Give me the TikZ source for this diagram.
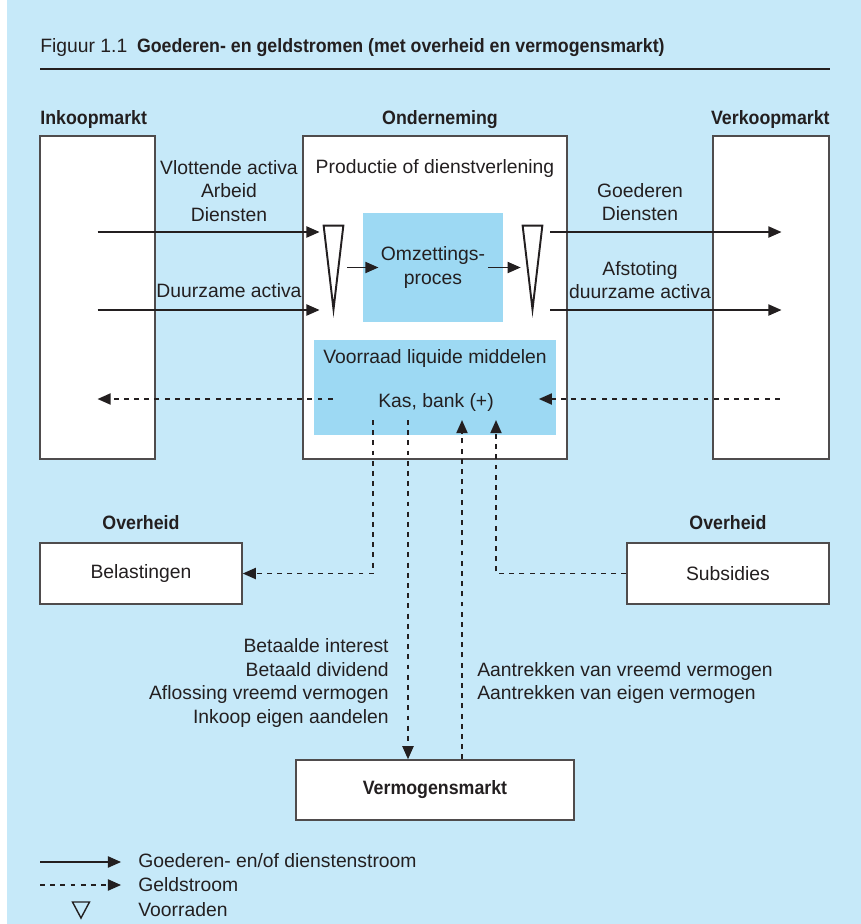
\documentclass[tikz,border=0pt]{standalone}
\usepackage{fontspec}
\setmainfont{Liberation Sans}[BoldFeatures={FakeStretch=0.92}]
\usetikzlibrary{arrows.meta,positioning,fit,calc}

\definecolor{achtergrond}{HTML}{C6E9F9}
\definecolor{vlak}{HTML}{9DD9F3}
\definecolor{inkt}{HTML}{231F20}

\begin{document}
\begin{tikzpicture}[x=0.02cm, y=-0.02cm, font=\fontsize{11}{13.4}\selectfont, text=inkt,
    box/.style={draw=inkt!80, fill=white, line width=0.8pt, inner sep=0pt},
    vlakbox/.style={fill=vlak, inner sep=0pt},
    kop/.style={font=\fontsize{11}{13.4}\selectfont\bfseries},
    flow/.style={draw=inkt, line width=1.1pt, -{Triangle[length=7.5pt, width=6.3pt]}},
    geld/.style={flow, dash pattern=on 2.8pt off 3pt},
    voorraad/.style={draw=inkt, line width=1.1pt, fill=white, miter limit=20}]

    \useasboundingbox (0,0) rectangle (861,924);
    \fill[achtergrond] (7,0) rectangle (861,924);

    % titel
    \node[anchor=base west, inner sep=0pt] (titel) at (40,52) {Figuur 1.1\enspace\textbf{Goederen- en geldstromen (met overheid en vermogensmarkt)}};
    \draw[inkt, line width=1.7pt] (40,69) -- (830,69);

    % markten en onderneming
    \node[box, fit={(40,136) (155,459)}] (inkoop) {};
    \node[box, fit={(303,136) (567,459)}] (onderneming) {};
    \node[box, fit={(713,136) (829,459)}] (verkoop) {};
    \node[kop, anchor=base west, inner sep=0pt] (inkoopkop) at (40,124) {Inkoopmarkt};
    \node[kop, anchor=base, inner sep=0pt] (ondernemingkop) at (440,124) {Onderneming};
    \node[kop, anchor=base east, inner sep=0pt] (verkoopkop) at (830,124) {Verkoopmarkt};

    \node[anchor=base] (productie) at (435,173) {Productie of dienstverlening};
    \node[vlakbox, fit={(363,213) (503,322)}] (omzetting) {};
    \node[align=center] (omzettekst) at (omzetting) {Omzettings-\\proces};

    % voorraden
    \node[inner sep=0pt, fit={(324,226) (343,309)}] (vlinks) {};
    \node[inner sep=0pt, fit={(523,226) (542,309)}] (vrechts) {};
    \draw[voorraad] (vlinks.north west) -- (vlinks.north east) -- (vlinks.south) -- cycle;
    \draw[voorraad] (vrechts.north west) -- (vrechts.north east) -- (vrechts.south) -- cycle;

    % goederenstromen
    \draw[flow, shorten >=2.3pt] (inkoop.center |- 0,232) -- (vlinks.west |- 0,232);
    \draw[flow, shorten >=2.3pt] (inkoop.center |- 0,310) -- (vlinks.west |- 0,310);
    \draw[flow] ([xshift=2.3pt]vlinks.east |- omzetting) -- ([xshift=9pt]omzetting.west);
    \draw[flow] ([xshift=-8.5pt]omzetting.east) -- ([xshift=-1.1pt]vrechts.west |- omzetting);
    \draw[flow] ([xshift=4.5pt]vrechts.east |- 0,232) -- ([xshift=6pt]verkoop.center |- 0,232);
    \draw[flow] ([xshift=4.5pt]vrechts.east |- 0,310) -- ([xshift=6pt]verkoop.center |- 0,310);

    \node[align=center] (inkooptekst) at (229,191) {Vlottende activa\\Arbeid\\Diensten};
    \node[anchor=base] (duurzaam) at (229,297) {Duurzame activa};
    \node[align=center] (verkooptekst) at (640,202) {Goederen\\Diensten};
    \node[align=center] (afstoting) at (640,280) {Afstoting\\duurzame activa};

    % liquide middelen
    \node[vlakbox, fit={(314,340) (556,435)}] (liquide) {};
    \node[anchor=base] (voorraadtekst) at (435,363) {Voorraad liquide middelen};
    \node[anchor=base] (kas) at (436,407) {Kas, bank (+)};

    \draw[geld] ([xshift=10.8pt]liquide.west |- 0,399) -- (inkoop.center |- 0,399);
    \draw[geld] ([xshift=5pt]verkoop.center |- 0,399) -- ([xshift=-10pt]liquide.east |- 0,399);

    % overheid
    \node[box, fit={(40,543) (242,604)}] (belasting) {};
    \node[box, fit={(627,543) (829,604)}] (subsidie) {};
    \node (belastingtekst) at (belasting) {Belastingen};
    \node (subsidietekst) at (subsidie) {Subsidies};
    \node[kop, above=3.5pt of belasting] (overheidlinks) {Overheid};
    \node[kop, above=3.5pt of subsidie] (overheidrechts) {Overheid};

    % vermogensmarkt
    \node[box, fit={(296,760) (574,820)}] (vermogen) {};
    \node[kop] (vermogentekst) at (vermogen) {Vermogensmarkt};

    \coordinate (uit1) at (373,420);
    \coordinate (uit2) at (408,420);
    \coordinate (in1) at (462,420);
    \coordinate (in2) at (496,420);

    \draw[geld] (uit1) |- (belasting);
    \draw[geld] (subsidie) -| (in2);
    \draw[geld] (uit2) -- (uit2 |- vermogen.north);
    \draw[geld] (vermogen.north -| in1) -- (in1);

    \node[align=right, anchor=east, inner sep=0pt] (uitgaven) at (389,683) {Betaalde interest\\Betaald dividend\\Aflossing vreemd vermogen\\Inkoop eigen aandelen};
    \node[align=left, anchor=west, inner sep=0pt] (ontvangsten) at (477,683) {Aantrekken van vreemd vermogen\\Aantrekken van eigen vermogen};

    % legenda
    \node[anchor=base west, inner sep=0pt] (leg1) at (138,867) {Goederen- en/of dienstenstroom};
    \node[anchor=base west, inner sep=0pt] (leg2) at (138,891) {Geldstroom};
    \node[anchor=base west, inner sep=0pt] (leg3) at (138,916) {Voorraden};
    \coordinate (l1) at (40,862);
    \coordinate (l2) at (40,885);
    \draw[flow, shorten >=9.6pt] (l1) -- (l1 -| leg1.west);
    \draw[geld, shorten >=9.6pt] (l2) -- (l2 -| leg2.west);
    \draw[line width=0.8pt, inkt] (72.5,902) -- (89.5,902) -- (81,918) -- cycle;
\end{tikzpicture}
\end{document}
